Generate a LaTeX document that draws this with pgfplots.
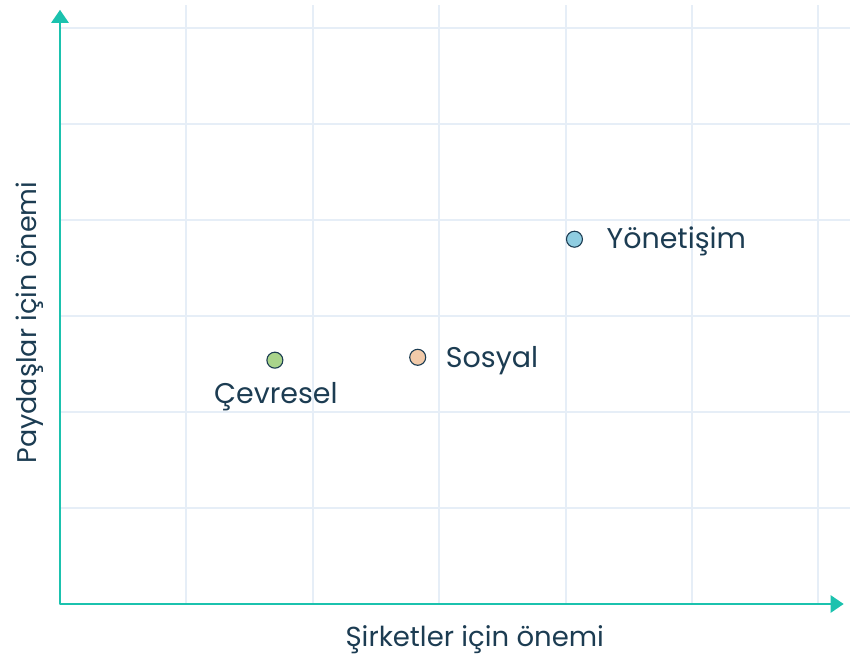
\documentclass[border=0pt]{standalone}
\usepackage{pgfplots}
\pgfplotsset{compat=1.18}
\usepackage{fontspec}
\setmainfont{Poppins}
\usetikzlibrary{arrows.meta}
\definecolor{axteal}{HTML}{1BC2AE}
\definecolor{gridc}{HTML}{E6EEF7}
\definecolor{navy}{HTML}{1C3C52}
\definecolor{cgreen}{HTML}{A9D48B}
\definecolor{cpeach}{HTML}{F2CAA9}
\definecolor{cblue}{HTML}{8FCDE1}
\begin{document}
\begin{tikzpicture}
\useasboundingbox (-60pt,-52pt) rectangle (790pt,604pt);
\begin{axis}[
  at={(0pt,0pt)}, anchor=south west,
  scale only axis, width=790pt, height=599pt,
  xmin=0, xmax=6.25, ymin=0, ymax=6.24,
  xtick={1,2,3,4,5,6}, ytick={1,2,3,4,5,6},
  xticklabels={}, yticklabels={},
  major tick length=0pt,
  grid=major,
  major grid style={draw=gridc, line width=2pt},
  axis line style={draw=none},
  clip=false,
]
\draw[axteal, line width=2.6pt, line join=round] (axis cs:6.05,0) -- (axis cs:0,0) -- (axis cs:0,6.05);
\draw[axteal, line width=2.6pt, -{Triangle[width=17pt,length=13pt]}] (axis cs:6.0,0) -- (axis cs:6.2,0);
\draw[axteal, line width=2.6pt, -{Triangle[width=17pt,length=13pt]}] (axis cs:0,6.0) -- (axis cs:0,6.19);
\addplot[only marks, mark=*, mark size=8pt, mark options={draw=navy, fill=cgreen, line width=1.1pt}] coordinates {(1.70,2.54)};
\addplot[only marks, mark=*, mark size=8pt, mark options={draw=navy, fill=cpeach, line width=1.1pt}] coordinates {(2.83,2.57)};
\addplot[only marks, mark=*, mark size=8pt, mark options={draw=navy, fill=cblue, line width=1.1pt}] coordinates {(4.07,3.80)};
\node[anchor=center, text=navy, font=\fontsize{28.5}{32}\selectfont] at ([xshift=1pt,yshift=-36pt]axis cs:1.70,2.54) {Çevresel};
\node[anchor=west, inner sep=0pt, text=navy, font=\fontsize{28.5}{32}\selectfont] at ([xshift=28pt,yshift=-3pt]axis cs:2.83,2.57) {Sosyal};
\node[anchor=west, inner sep=0pt, text=navy, font=\fontsize{28.5}{32}\selectfont] at ([xshift=32pt,yshift=-2pt]axis cs:4.07,3.80) {Yönetişim};
\node[text=navy, font=\fontsize{27.5}{30}\selectfont] at ([yshift=-36pt]axis description cs:0.525,0) {Şirketler için önemi};
\node[text=navy, rotate=90, font=\fontsize{27}{30}\selectfont] at ([xshift=-30pt]axis description cs:0,0.47) {Paydaşlar için önemi};
\end{axis}
\end{tikzpicture}
\end{document}
